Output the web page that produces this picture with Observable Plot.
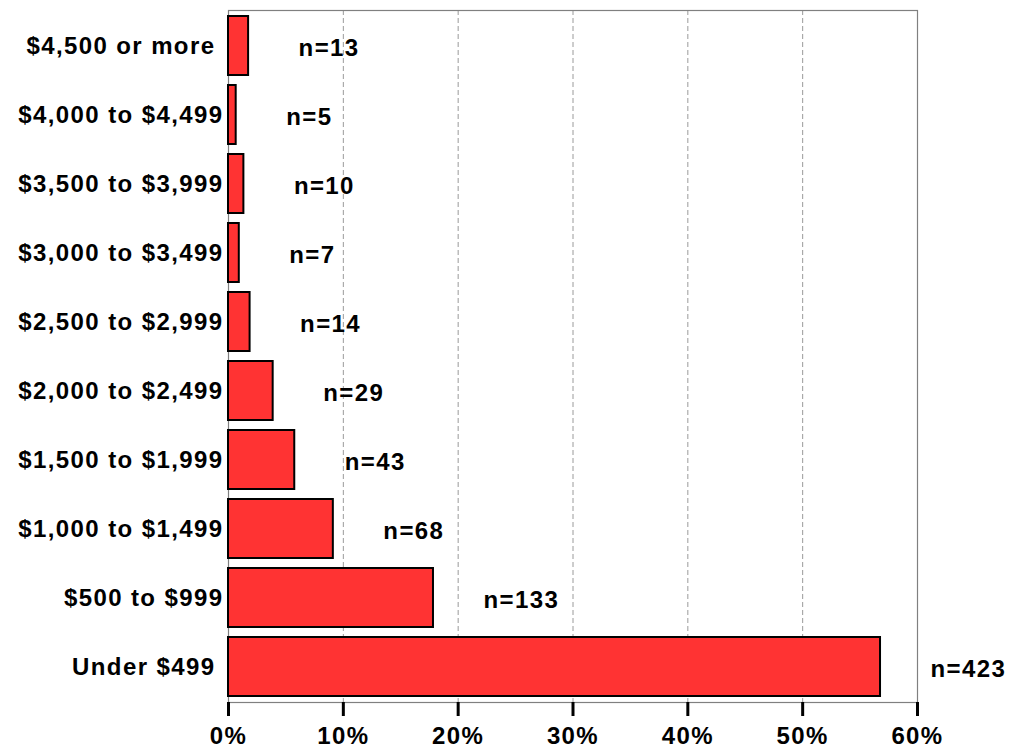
<!DOCTYPE html>
<html>
<head>
<meta charset="utf-8">
<script src="https://cdn.jsdelivr.net/npm/d3@7"></script>
<script src="https://cdn.jsdelivr.net/npm/@observablehq/plot@0.6"></script>
<style>
  html, body { margin: 0; padding: 0; background: #fff; }
</style>
</head>
<body>
<div id="chart"></div>
<script>
// Categories, top to bottom
const categories = [
  "$4,500 or more\u00a0",
  "$4,000 to $4,499",
  "$3,500 to $3,999",
  "$3,000 to $3,499",
  "$2,500 to $2,999",
  "$2,000 to $2,499",
  "$1,500 to $1,999",
  "$1,000 to $1,499",
  "$500 to $999",
  "Under $499\u00a0"
];
// Share of respondents (fraction)
const shares = [0.0175, 0.0067, 0.0134, 0.0094, 0.0188, 0.0389, 0.0577, 0.0913, 0.1785, 0.5678];
// Respondent counts
const counts = [13, 5, 10, 7, 14, 29, 43, 68, 133, 423];
// X tick values
const xTicks = [0, 0.1, 0.2, 0.3, 0.4, 0.5, 0.6];
const gridTicks = [0.1, 0.2, 0.3, 0.4, 0.5];

const data = categories.map((c, i) => ({cat: c, share: shares[i], n: counts[i]}));

const chart = Plot.plot({
  width: 1013,
  height: 750,
  marginLeft: 228,
  marginRight: 96,
  marginTop: 10,
  marginBottom: 48,
  style: {
    fontFamily: "'Liberation Sans', Arial, sans-serif",
    fontSize: "24px",
    fontWeight: "bold",
    letterSpacing: "1.4px",
    color: "#000",
    background: "#fff"
  },
  x: {domain: [0, 0.6]},
  y: {domain: categories, paddingInner: 0.14, paddingOuter: 0.07},
  marks: [
    Plot.gridX(gridTicks, {stroke: "#9a9a9a", strokeOpacity: 1, strokeWidth: 1, strokeDasharray: "5,3"}),
    Plot.frame({stroke: "#808080", strokeWidth: 1.2}),
    Plot.barX(data, {x: "share", y: "cat", fill: "#ff3333", stroke: "#000", strokeWidth: 2}),
    Plot.text(data, {x: "share", y: "cat", text: d => "n=" + d.n, textAnchor: "start", dx: 50, dy: 2, fill: "#000"}),
    Plot.axisX({ticks: xTicks, tickFormat: d3.format(".0%"), tickSize: 14, tickPadding: 10, stroke: "#000", strokeWidth: 3, label: null, fill: "#000"}),
    Plot.axisY({tickSize: 0, tickPadding: 5, label: null, fill: "#000"})
  ]
});
document.getElementById("chart").appendChild(chart);
</script>
</body>
</html>
